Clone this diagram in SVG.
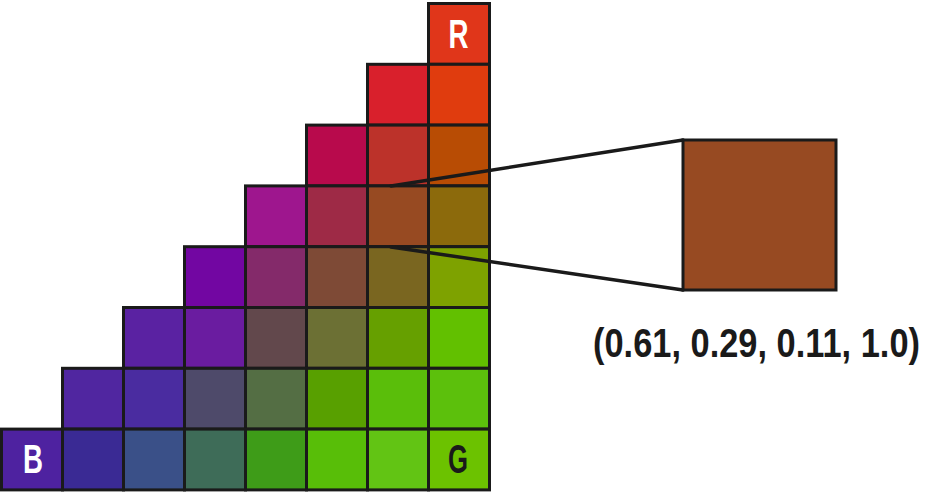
<svg xmlns="http://www.w3.org/2000/svg" width="929" height="492" viewBox="0 0 929 492">
<style>
.c{stroke:#1a1a1a;stroke-width:3}
.lbl{font-family:"Liberation Sans Narrow","Liberation Sans",Arial,sans-serif;font-weight:bold;font-size:40px;text-anchor:middle}
.cap{font-family:"Liberation Sans",Arial,sans-serif;font-weight:bold;font-size:40px}
.ln{stroke:#1a1a1a;stroke-width:3.5;fill:none;stroke-linecap:round}
</style>
<rect width="929" height="492" fill="#ffffff"/>
<g id="grid">
<g id="r0c7"><rect class="c" x="428.5" y="3.5" width="61" height="60.8" fill="#e0361a"/></g>
<g id="r1c6"><rect class="c" x="367.5" y="64.3" width="61" height="60.8" fill="#d9202c"/></g>
<g id="r1c7"><rect class="c" x="428.5" y="64.3" width="61" height="60.8" fill="#e03c0e"/></g>
<g id="r2c5"><rect class="c" x="306.5" y="125.1" width="61" height="60.8" fill="#b80a4c"/></g>
<g id="r2c6"><rect class="c" x="367.5" y="125.1" width="61" height="60.8" fill="#bc322a"/></g>
<g id="r2c7"><rect class="c" x="428.5" y="125.1" width="61" height="60.8" fill="#b84c04"/></g>
<g id="r3c4"><rect class="c" x="245.5" y="185.9" width="61" height="60.8" fill="#9e168e"/></g>
<g id="r3c5"><rect class="c" x="306.5" y="185.9" width="61" height="60.8" fill="#9e2a46"/></g>
<g id="r3c6"><rect class="c" x="367.5" y="185.9" width="61" height="60.8" fill="#974a22"/></g>
<g id="r3c7"><rect class="c" x="428.5" y="185.9" width="61" height="60.8" fill="#8c6a0c"/></g>
<g id="r4c3"><rect class="c" x="184.5" y="246.7" width="61" height="60.8" fill="#7206a2"/></g>
<g id="r4c4"><rect class="c" x="245.5" y="246.7" width="61" height="60.8" fill="#842a6a"/></g>
<g id="r4c5"><rect class="c" x="306.5" y="246.7" width="61" height="60.8" fill="#7e4a36"/></g>
<g id="r4c6"><rect class="c" x="367.5" y="246.7" width="61" height="60.8" fill="#7a6620"/></g>
<g id="r4c7"><rect class="c" x="428.5" y="246.7" width="61" height="60.8" fill="#7ea200"/></g>
<g id="r5c2"><rect class="c" x="123.5" y="307.5" width="61" height="60.8" fill="#5a22a2"/></g>
<g id="r5c3"><rect class="c" x="184.5" y="307.5" width="61" height="60.8" fill="#6a1ca0"/></g>
<g id="r5c4"><rect class="c" x="245.5" y="307.5" width="61" height="60.8" fill="#62484c"/></g>
<g id="r5c5"><rect class="c" x="306.5" y="307.5" width="61" height="60.8" fill="#6c7034"/></g>
<g id="r5c6"><rect class="c" x="367.5" y="307.5" width="61" height="60.8" fill="#66a000"/></g>
<g id="r5c7"><rect class="c" x="428.5" y="307.5" width="61" height="60.8" fill="#62c000"/></g>
<g id="r6c1"><rect class="c" x="62.5" y="368.3" width="61" height="60.8" fill="#5026a0"/></g>
<g id="r6c2"><rect class="c" x="123.5" y="368.3" width="61" height="60.8" fill="#4a2ca0"/></g>
<g id="r6c3"><rect class="c" x="184.5" y="368.3" width="61" height="60.8" fill="#4e4a6a"/></g>
<g id="r6c4"><rect class="c" x="245.5" y="368.3" width="61" height="60.8" fill="#546e44"/></g>
<g id="r6c5"><rect class="c" x="306.5" y="368.3" width="61" height="60.8" fill="#58a000"/></g>
<g id="r6c6"><rect class="c" x="367.5" y="368.3" width="61" height="60.8" fill="#5abe0a"/></g>
<g id="r6c7"><rect class="c" x="428.5" y="368.3" width="61" height="60.8" fill="#5cc00c"/></g>
<g id="r7c0"><rect class="c" x="1.5" y="429.1" width="61" height="60.8" fill="#4e22a0"/></g>
<g id="r7c1"><rect class="c" x="62.5" y="429.1" width="61" height="60.8" fill="#3a2a94"/></g>
<g id="r7c2"><rect class="c" x="123.5" y="429.1" width="61" height="60.8" fill="#3a5088"/></g>
<g id="r7c3"><rect class="c" x="184.5" y="429.1" width="61" height="60.8" fill="#3e6c58"/></g>
<g id="r7c4"><rect class="c" x="245.5" y="429.1" width="61" height="60.8" fill="#3e9c18"/></g>
<g id="r7c5"><rect class="c" x="306.5" y="429.1" width="61" height="60.8" fill="#58be08"/></g>
<g id="r7c6"><rect class="c" x="367.5" y="429.1" width="61" height="60.8" fill="#62c414"/></g>
<g id="r7c7"><rect class="c" x="428.5" y="429.1" width="61" height="60.8" fill="#6cc200"/></g>
</g>
<g id="labels">
<text class="lbl" x="458.5" y="48" fill="#ffffff" textLength="20" lengthAdjust="spacingAndGlyphs">R</text>
<text class="lbl" x="33" y="473" fill="#ffffff" textLength="20" lengthAdjust="spacingAndGlyphs">B</text>
<text class="lbl" x="458" y="473" fill="#1a1a1a" textLength="20" lengthAdjust="spacingAndGlyphs">G</text>
</g>
<g id="connectors">
<line class="ln" x1="391" y1="186" x2="683" y2="140"/>
<line class="ln" x1="391" y1="247" x2="683" y2="290"/>
</g>
<g id="swatch">
<rect class="c" x="683" y="140" width="153" height="150" fill="#974a22"/>
</g>
<g id="caption">
<text class="cap" transform="translate(593 357) scale(0.86 1)" x="0" y="0" fill="#1a1a1a">(0.61, 0.29, 0.11, 1.0)</text>
</g>
</svg>
